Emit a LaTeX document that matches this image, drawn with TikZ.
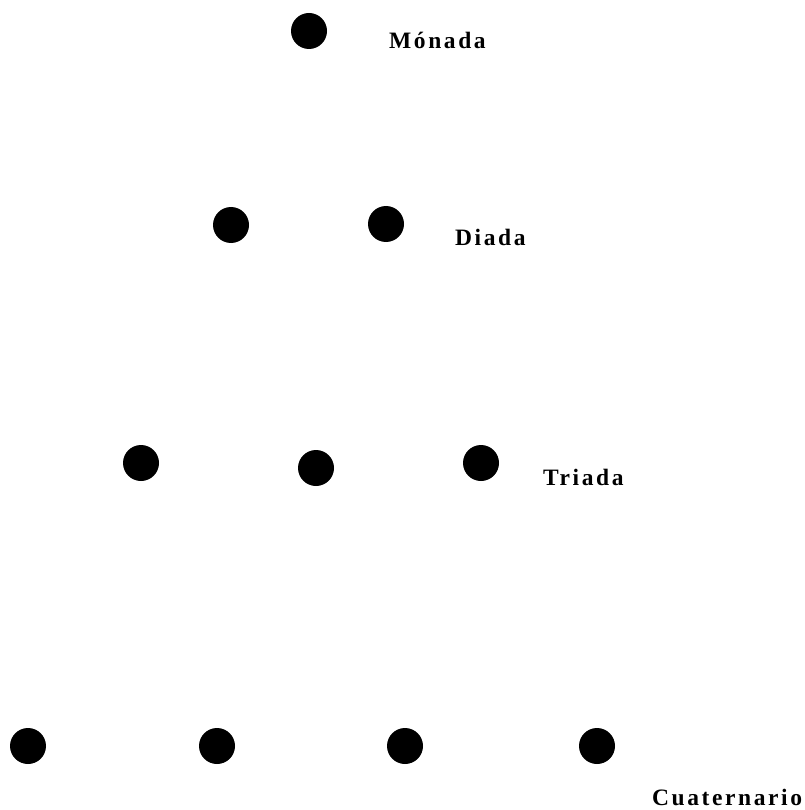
\documentclass[tikz,border=0pt]{standalone}
\usepackage{fontspec}
\setmainfont{Liberation Serif}[LetterSpace=11]
\usepackage{tikz}
\usetikzlibrary{positioning}

\begin{document}
\begin{tikzpicture}[x=1pt, y=-1pt,
        dot/.style={circle, fill=black, minimum size=36pt, inner sep=0pt},
        lbl/.style={anchor=base west, inner sep=0pt, font=\fontsize{23.5}{28}\selectfont\bfseries}]
        \useasboundingbox (0,0) rectangle (804,810);
        % Monada
        \node[dot] (m1) at (309,31) {};
        \node[lbl] (monada) at (389,49) {Mónada};
        % Diada
        \node[dot] (d1) at (231,225) {};
        \node[dot] (d2) at (386,224) {};
        \node[lbl] (diada) at (455,245) {Diada};
        % Triada
        \node[dot] (t1) at (141,463) {};
        \node[dot] (t2) at (316,468) {};
        \node[dot] (t3) at (481,463) {};
        \node[lbl] (triada) at (543,485) {Triada};
        % Cuaternario
        \node[dot] (c1) at (28,746) {};
        \node[dot] (c2) at (217,746) {};
        \node[dot] (c3) at (405,746) {};
        \node[dot] (c4) at (597,746) {};
        \node[lbl] (cuaternario) at (652,805) {Cuaternario};
      \end{tikzpicture}
\end{document}
